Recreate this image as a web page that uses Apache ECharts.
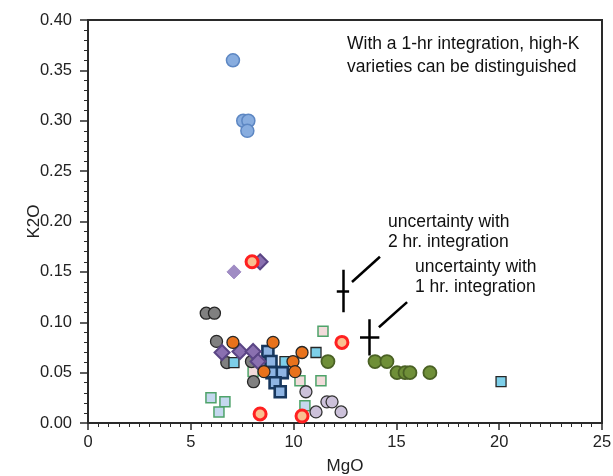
<!DOCTYPE html>
<html>
<head>
<meta charset="utf-8">
<script src="https://cdn.jsdelivr.net/npm/echarts@6/dist/echarts.min.js"></script>
<style>
html,body{margin:0;padding:0;background:#fff;}
#chart{width:613px;height:476px;}
</style>
</head>
<body>
<div id="chart"></div>
<script>
// ---- data (MgO, K2O) ----
const lightBlueCircles = [[7.05,0.36],[7.55,0.30],[7.8,0.30],[7.75,0.29]];
const lightDiamond = [[7.1,0.15]];
const purpleDiamonds = [[8.37,0.16],[6.52,0.07],[7.39,0.071],[8.03,0.071],[8.27,0.061]];
const grayCircles = [[5.75,0.109],[6.15,0.109],[6.25,0.081],[6.75,0.06],[7.95,0.061],[8.05,0.041]];
const orangeCircles = [[7.05,0.08],[9.0,0.08],[10.41,0.07],[9.97,0.061],[8.56,0.051],[10.07,0.051]];
const navySquares = [[8.75,0.071],[8.9,0.061],[8.95,0.05],[9.45,0.05],[9.1,0.04],[9.35,0.031]];
const cyanSquares = [[7.1,0.06],[9.58,0.061],[11.09,0.07],[20.09,0.041]];
const pinkSquares = [[11.43,0.091],[10.31,0.042],[11.33,0.042],[8.03,0.051]];
const paleBlueSquares = [[5.98,0.025],[6.66,0.021],[6.37,0.011],[10.55,0.017]];
const lavenderCircles = [[10.6,0.031],[11.62,0.021],[11.87,0.021],[11.09,0.011],[12.31,0.011]];
const redRingCircles = [[7.98,0.16],[8.37,0.009],[10.41,0.007],[12.35,0.08]];
const oliveCircles = [[11.67,0.061],[13.96,0.061],[14.54,0.061],[15.03,0.05],[15.42,0.05],[15.66,0.05],[16.63,0.05]];

// uncertainty crosses: [centerX, centerY, halfX, halfY]
const cross2hr = [12.4, 0.131, 0.3, 0.021];
const cross1hr = [13.7, 0.085, 0.47, 0.018];
// leader lines
const leader2hr = [[12.84,0.14],[14.2,0.165]];
const leader1hr = [[14.15,0.095],[15.52,0.12]];

const xTicks = [0,5,10,15,20,25];
const yTicks = [0,0.05,0.10,0.15,0.20,0.25,0.30,0.35,0.40];

const noteTop = 'With a 1-hr integration, high-K\nvarieties can be distinguished';
const note2 = 'uncertainty with\n2 hr. integration';
const note1 = 'uncertainty with\n1 hr. integration';

function crossSegs(c){
  return [
    {coords:[[c[0]-c[2],c[1]],[c[0]+c[2],c[1]]]},
    {coords:[[c[0],c[1]-c[3]],[c[0],c[1]+c[3]]]}
  ];
}

function sc(name,data,symbol,size,fill,border,bw,z){
  return {type:'scatter',name:name,data:data,symbol:symbol,symbolSize:size,z:z||2,
    itemStyle:{color:fill,borderColor:border,borderWidth:bw,opacity:1},
    emphasis:{disabled:true}};
}

const FONT = '"Liberation Sans",Arial,sans-serif';
const FONT2 = '"Liberation Sans",Arial,sans-serif';

const chart = echarts.init(document.getElementById('chart'),null,{renderer:'canvas'});
chart.setOption({
  animation:false,
  backgroundColor:'#fff',
  grid:{left:88,right:11,top:20,bottom:53,containLabel:false,outerBoundsMode:'none',
    show:true,borderColor:'#2a2a2a',borderWidth:2,backgroundColor:'transparent'},
  xAxis:{type:'value',min:0,max:25,interval:5,
    name:'MgO',nameLocation:'middle',nameGap:35,nameMoveOverlap:false,
    nameTextStyle:{fontFamily:FONT,fontSize:17,color:'#222'},
    axisLine:{show:true,onZero:false,lineStyle:{color:'#2a2a2a',width:2}},
    axisTick:{show:true,inside:false,length:7,lineStyle:{color:'#2a2a2a',width:1.5}},
    minorTick:{show:true,splitNumber:10,length:4,lineStyle:{color:'#2a2a2a',width:1}},
    splitLine:{show:false},
    axisLabel:{fontFamily:FONT,fontSize:16.5,color:'#222',margin:11,
      formatter:function(v){return xTicks.indexOf(v)>=0?String(v):'';}}},
  yAxis:{type:'value',min:0,max:0.4,interval:0.05,
    name:'K2O',nameLocation:'middle',nameGap:45,nameRotate:90,nameMoveOverlap:false,
    nameTextStyle:{fontFamily:FONT,fontSize:17,color:'#222'},
    axisLine:{show:true,onZero:false,lineStyle:{color:'#2a2a2a',width:2}},
    axisTick:{show:true,inside:false,length:8,lineStyle:{color:'#2a2a2a',width:1.5}},
    minorTick:{show:true,splitNumber:5,length:4,lineStyle:{color:'#2a2a2a',width:1}},
    splitLine:{show:false},
    axisLabel:{fontFamily:FONT,fontSize:16.5,color:'#222',margin:16,
      formatter:function(v){return v.toFixed(2);}}},
  graphic:[
    {type:'text',left:347,top:33,style:{text:noteTop,font:'17.5px '+FONT2,fill:'#111',lineHeight:23}},
    {type:'text',left:388,top:212,style:{text:note2,font:'17.5px '+FONT2,fill:'#111',lineHeight:20}},
    {type:'text',left:415,top:257,style:{text:note1,font:'17.5px '+FONT2,fill:'#111',lineHeight:20}}
  ],
  series:[
    sc('lightBlue',lightBlueCircles,'circle',13,'#88addf','#5d87c3',1.5),
    sc('olive',oliveCircles,'circle',13,'#6f8f38','#4a6124',1.8),
    sc('paleBlue',paleBlueSquares,'rect',10,'#c5d8ef','#4ea36a',1.5),
    sc('pink',pinkSquares,'rect',10,'#f2dcdb','#4ea36a',1.5),
    sc('lavender',lavenderCircles,'circle',12,'#ccc1da','#333',1.3),
    sc('gray',grayCircles,'circle',12,'#808080','#262626',1.3),
    sc('cyan',cyanSquares,'rect',10,'#7dcfe9','#262626',1.3),
    sc('navy',navySquares,'rect',11,'#8eb4e3','#17375e',2.6),
    sc('lightDiamond',lightDiamond,'diamond',14,'#a08cc4','#a08cc4',1),
    sc('diamond',purpleDiamonds,'diamond',15,'#8a70b0','#5a4585',2),
    sc('orange',orangeCircles,'circle',12,'#e8721c','#262626',1.3),
    sc('redRing',redRingCircles,'circle',12,'#fac090','#ff2020',3,3),
    {type:'lines',coordinateSystem:'cartesian2d',z:4,silent:true,
      lineStyle:{color:'#000',width:2.5,opacity:1},
      data:crossSegs(cross2hr).concat(crossSegs(cross1hr))},
    {type:'lines',coordinateSystem:'cartesian2d',z:4,silent:true,
      lineStyle:{color:'#000',width:2.5,opacity:1},
      data:[{coords:leader2hr},{coords:leader1hr}]}
  ]
});
</script>
</body>
</html>
